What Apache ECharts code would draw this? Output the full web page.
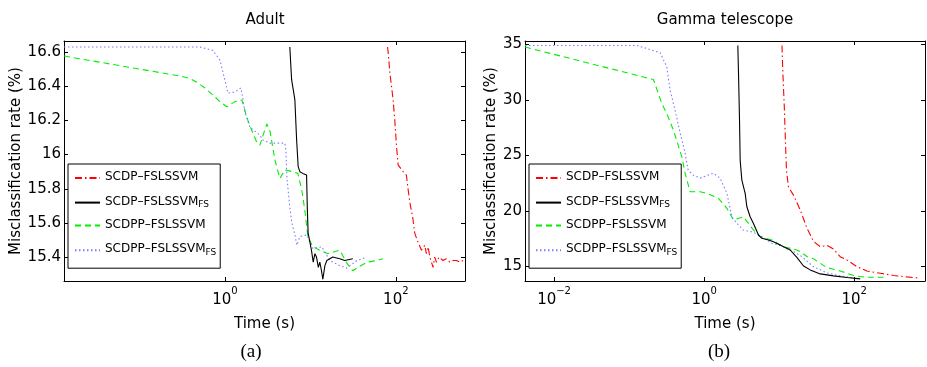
<!DOCTYPE html>
<html><head><meta charset="utf-8">
<script src="https://cdn.jsdelivr.net/npm/echarts@6/dist/echarts.min.js"></script>
<style>html,body{margin:0;padding:0;background:#fff}#c{width:927px;height:367px}</style>
</head><body><div id="c"></div>
<script>
// ---------- data ----------
const chartTitles = ['Adult', 'Gamma telescope'];
const captions = ['(a)', '(b)'];
const seriesNames = ['SCDP–FSLSSVM', 'SCDP–FSLSSVM_FS', 'SCDPP–FSLSSVM', 'SCDPP–FSLSSVM_FS'];
const xAxisName = 'Time (s)';
const yAxisName = 'Misclassification rate (%)';

// Adult
const adultXTicks = [1, 100];
const adultYTicks = [15.4, 15.6, 15.8, 16, 16.2, 16.4, 16.6];
const adultXRange = [0.0131, 645];
const adultYRange = [15.26, 16.665];

const adultScdpT = [80, 81.3, 85.1, 89.1, 93, 97.3, 101.9, 106.4, 121.7, 133, 139, 145.8, 156.8, 166.7, 177.5, 199.7, 218.3, 228, 238.8, 250, 273, 285, 299, 320, 357, 390, 428, 470, 513, 560, 612];
const adultScdpR = [16.63, 16.60, 16.48, 16.40, 16.32, 16.20, 16.05, 15.94, 15.90, 15.88, 15.80, 15.72, 15.64, 15.54, 15.50, 15.44, 15.47, 15.42, 15.46, 15.40, 15.34, 15.40, 15.37, 15.40, 15.38, 15.39, 15.37, 15.38, 15.38, 15.37, 15.38];

const adultScdpFsT = [5.75, 6.03, 6.59, 6.9, 7.2, 7.54, 8.17, 8.62, 9.03, 9.22, 9.42, 10.3, 10.8, 11.3, 11.8, 12.4, 12.9, 13.5, 14.0, 14.8, 15.6, 18.3, 22.1, 25.2, 31.4];
const adultScdpFsR = [16.63, 16.44, 16.32, 16.09, 15.93, 15.90, 15.89, 15.88, 15.88, 15.68, 15.54, 15.44, 15.37, 15.42, 15.40, 15.34, 15.37, 15.32, 15.27, 15.35, 15.38, 15.40, 15.39, 15.38, 15.39];

const adultScdppT = [0.0131, 0.298, 0.39, 0.483, 0.583, 0.705, 0.874, 1.055, 1.31, 1.58, 1.71, 1.86, 2.07, 2.37, 2.57, 2.78, 3.1, 3.18, 3.36, 3.64, 3.84, 4.4, 5.03, 6.24, 7.14, 7.95, 8.62, 9.35, 10.7, 12.9, 16, 22.1, 26.7, 31.4, 35.9, 45.8, 60, 70.5];
const adultScdppR = [16.577, 16.46, 16.446, 16.42, 16.39, 16.354, 16.31, 16.28, 16.31, 16.32, 16.26, 16.20, 16.14, 16.07, 16.055, 16.11, 16.18, 16.19, 16.14, 16.04, 15.97, 15.86, 15.91, 15.90, 15.89, 15.79, 15.675, 15.52, 15.46, 15.44, 15.42, 15.44, 15.365, 15.32, 15.34, 15.37, 15.38, 15.39];

const adultScdppFsT = [0.0131, 0.298, 0.51, 0.724, 0.874, 1.0, 1.084, 1.31, 1.54, 1.62, 1.71, 1.96, 2.57, 2.78, 3.36, 5.03, 5.17, 5.31, 5.75, 6.08, 6.59, 6.95, 7.54, 9.1, 10.7, 13.6, 16.9, 22.1, 26.7, 35, 45.7];
const adultScdppFsR = [16.63, 16.63, 16.63, 16.61, 16.553, 16.436, 16.36, 16.366, 16.39, 16.33, 16.25, 16.16, 16.114, 16.085, 16.067, 16.067, 16.026, 15.87, 15.69, 15.60, 15.53, 15.47, 15.52, 15.53, 15.45, 15.46, 15.38, 15.35, 15.335, 15.38, 15.40];

// Gamma telescope
const gammaXTicks = [0.01, 1, 100];
const gammaYTicks = [15, 20, 25, 30, 35];
const gammaXRange = [0.0041, 877];
const gammaYRange = [13.7, 35.3];

const gammaScdpT = [10.9, 11.2, 11.7, 12.1, 12.5, 13.3, 15.5, 19.1, 23.4, 28.7, 35.2, 43.3, 53, 65, 80, 108.7, 147.6, 222, 334, 504, 759];
const gammaScdpR = [34.9, 32.37, 29.37, 26.37, 23.68, 22.15, 21.43, 20.08, 18.47, 17.26, 16.79, 16.9, 16.58, 15.89, 15.59, 14.99, 14.6, 14.4, 14.2, 14.07, 13.95];

const gammaScdpFsT = [2.81, 2.87, 2.96, 3.02, 3.18, 3.52, 3.71, 3.9, 4.1, 4.54, 5.3, 5.88, 7.2, 8.4, 10.3, 14.0, 17.2, 21.1, 25.9, 35.2, 53, 80, 120];
const gammaScdpFsR = [34.9, 32.4, 28.2, 24.58, 22.78, 21.59, 20.38, 20.53, 19.48, 18.88, 17.84, 17.54, 17.39, 17.24, 16.94, 16.49, 15.82, 15.05, 14.7, 14.34, 14.16, 14.02, 13.89];

const gammaScdppT = [0.0041, 0.211, 0.273, 0.318, 0.39, 0.505, 0.558, 0.651, 0.885, 1.09, 1.55, 2.01, 2.46, 3.34, 4.54, 5.58, 8.0, 11.4, 17.2, 19.1, 23.4, 28.7, 35.2, 43.3, 53, 65, 80, 98, 120, 147.6, 246];
const gammaScdppR = [34.76, 31.83, 29.67, 28.77, 27.27, 24.87, 23.38, 21.73, 21.73, 21.59, 21.14, 20.24, 19.19, 19.48, 18.29, 17.69, 17.39, 16.79, 16.49, 16.34, 15.9, 15.7, 15.3, 14.9, 14.76, 14.6, 14.4, 14.2, 14.1, 14.04, 14.04];

const gammaScdppFsT = [0.0041, 0.127, 0.259, 0.318, 0.352, 0.41, 0.479, 0.558, 0.612, 0.713, 0.885, 1.13, 1.32, 1.63, 2.01, 2.34, 2.73, 3.31, 4.5, 6.12, 8.0, 10.3, 14.0, 19.1, 28.4, 43.3, 65, 97];
const gammaScdppFsR = [34.9, 34.9, 34.25, 32.96, 30.87, 29.07, 27.0, 25.2, 23.68, 23.23, 22.96, 23.23, 23.4, 22.96, 21.6, 19.46, 18.9, 18.29, 18.1, 17.6, 17.1, 16.9, 16.5, 16.0, 15.0, 14.43, 14.16, 14.0];

// ---------- styles ----------
const FONT = 'DejaVu Sans';
const styles = [
  {color: '#ff0000', type: [7, 3, 1.5, 3]},
  {color: '#000000', type: 'solid'},
  {color: '#00ee00', type: [6, 4]},
  {color: '#7b7bff', type: [1.5, 2.5]}
];

const zip = (t, r) => t.map((v, i) => [v, r[i]]);
const adultData = [zip(adultScdpT, adultScdpR), zip(adultScdpFsT, adultScdpFsR), zip(adultScdppT, adultScdppR), zip(adultScdppFsT, adultScdppFsR)];
const gammaData = [zip(gammaScdpT, gammaScdpR), zip(gammaScdpFsT, gammaScdpFsR), zip(gammaScdppT, gammaScdppR), zip(gammaScdppFsT, gammaScdppFsR)];

const supLabel = v => {
  const e = Math.round(Math.log10(v));
  return '{b|10}{s|' + (e < 0 ? '−' : '') + Math.abs(e) + '}';
};
const xRich = {
  b: {fontFamily: FONT, fontSize: 15, color: '#000', lineHeight: 22, verticalAlign: 'bottom'},
  s: {fontFamily: FONT, fontSize: 10, color: '#000', lineHeight: 10, verticalAlign: 'top'}
};
const axisLine = {show: true, onZero: false, lineStyle: {color: '#000', width: 1}};

function xAxes(gridIndex, range, ticks) {
  const base = {type: 'log', logBase: 10, gridIndex, min: range[0], max: range[1], splitLine: {show: false}, minorTick: {show: false}, axisLine};
  return [
    Object.assign({}, base, {
      position: 'bottom',
      axisTick: {show: true, inside: true, length: 4, customValues: ticks, lineStyle: {color: '#000'}},
      axisLabel: {show: true, margin: 5, customValues: ticks, formatter: supLabel, rich: xRich},
      name: xAxisName, nameLocation: 'middle', nameGap: 36,
      nameTextStyle: {fontFamily: FONT, fontSize: 15, color: '#000'}
    }),
    Object.assign({}, base, {
      position: 'top',
      axisTick: {show: true, inside: true, length: 4, customValues: ticks, lineStyle: {color: '#000'}},
      axisLabel: {show: false}
    })
  ];
}
function yAxes(gridIndex, range, ticks, gap) {
  const base = {type: 'value', gridIndex, min: range[0], max: range[1], splitLine: {show: false}, axisLine};
  return [
    Object.assign({}, base, {
      position: 'left',
      axisTick: {show: true, inside: true, length: 4, customValues: ticks, lineStyle: {color: '#000'}},
      axisLabel: {show: true, margin: 3, customValues: ticks, fontFamily: FONT, fontSize: 15, color: '#000',
        formatter: v => String(+(+v).toFixed(1))},
      name: yAxisName, nameLocation: 'middle', nameGap: gap,
      nameTextStyle: {fontFamily: FONT, fontSize: 15, color: '#000'}
    }),
    Object.assign({}, base, {
      position: 'right',
      axisTick: {show: true, inside: true, length: 4, customValues: ticks, lineStyle: {color: '#000'}},
      axisLabel: {show: false}
    })
  ];
}

const series = [];
[adultData, gammaData].forEach((set, g) => {
  set.forEach((d, i) => {
    series.push({
      name: seriesNames[i], type: 'line', data: d,
      xAxisIndex: g * 2, yAxisIndex: g * 2,
      symbol: 'none', showSymbol: false, smooth: false, animation: false,
      lineStyle: {color: styles[i].color, type: styles[i].type, width: 1.1},
      itemStyle: {color: styles[i].color},
      z: i === 1 ? 4 : 3
    });
  });
});

function legend(left) {
  return {
    left, top: 164, orient: 'vertical',
    data: seriesNames.map(n => ({name: n})),
    itemWidth: 25, itemHeight: 14, itemGap: 9,
    padding: [7, 4, 11, 6],
    borderColor: '#000', borderWidth: 1, backgroundColor: '#fff',
    selectedMode: false,
    itemStyle: {opacity: 0},
    formatter: name => {
      const p = name.split('_');
      return p.length > 1 ? '{b|' + p[0] + '}{s|' + p[1] + '}' : '{b|' + p[0] + '}';
    },
    textStyle: {
      fontFamily: FONT, fontSize: 12, color: '#000',
      rich: {
        b: {fontFamily: FONT, fontSize: 12, color: '#000', lineHeight: 14, verticalAlign: 'top'},
        s: {fontFamily: FONT, fontSize: 9, color: '#000', lineHeight: 10, verticalAlign: 'bottom', padding: [8, 0, 0, 0]}
      }
    }
  };
}

const chart = echarts.init(document.getElementById('c'), null, {renderer: 'canvas'});
chart.setOption({
  animation: false,
  backgroundColor: '#fff',
  title: [
    {text: chartTitles[0], left: 265, top: 13, padding: 0, textAlign: 'center', textStyle: {fontFamily: FONT, fontSize: 15, fontWeight: 'normal', color: '#000'}},
    {text: chartTitles[1], left: 725, top: 13, padding: 0, textAlign: 'center', textStyle: {fontFamily: FONT, fontSize: 15, fontWeight: 'normal', color: '#000'}},
    {text: captions[0], left: 251, top: 343, padding: 0, textAlign: 'center', textStyle: {fontFamily: 'Liberation Serif', fontSize: 19, fontWeight: 'normal', color: '#000'}},
    {text: captions[1], left: 719, top: 343, padding: 0, textAlign: 'center', textStyle: {fontFamily: 'Liberation Serif', fontSize: 19, fontWeight: 'normal', color: '#000'}}
  ],
  grid: [
    {left: 64, top: 41, width: 401, height: 240, containLabel: false},
    {left: 525, top: 41, width: 400, height: 240, containLabel: false}
  ],
  xAxis: xAxes(0, adultXRange, adultXTicks).concat(xAxes(1, gammaXRange, gammaXTicks)),
  yAxis: yAxes(0, adultYRange, adultYTicks, 40).concat(yAxes(1, gammaYRange, gammaYTicks, 26)),
  legend: [legend(68), legend(529)],
  series
});
</script>
</body></html>
